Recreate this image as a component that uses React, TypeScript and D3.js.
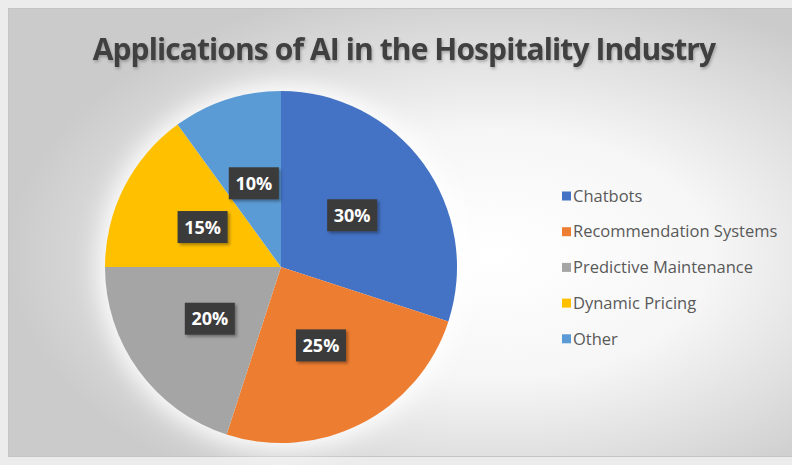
import { useEffect, useRef } from 'react'
import * as d3 from 'd3'

const categories = ['Chatbots', 'Recommendation Systems', 'Predictive Maintenance', 'Dynamic Pricing', 'Other']
const shares = [30, 25, 20, 15, 10]
const colors = ['#4472C4', '#ED7D31', '#A5A5A5', '#FFC000', '#5B9BD5']
const title = 'Applications of AI in the Hospitality Industry'

export default function App() {
  const svgRef = useRef<SVGSVGElement | null>(null)

  useEffect(() => {
    if (!svgRef.current) return
    const W = 792, H = 465
    const svg = d3.select(svgRef.current)
    svg.selectAll('*').remove()
    svg.attr('width', W).attr('height', H)

    const defs = svg.append('defs')
    const bg = defs.append('radialGradient').attr('id', 'bg-grad')
      .attr('cx', 0.62).attr('cy', 0.55).attr('r', 0.62)
    bg.append('stop').attr('offset', '0%').attr('stop-color', '#ffffff')
    bg.append('stop').attr('offset', '45%').attr('stop-color', '#f6f6f6')
    bg.append('stop').attr('offset', '100%').attr('stop-color', '#cbcbcb')

    const glow = defs.append('filter').attr('id', 'glow')
      .attr('x', '-30%').attr('y', '-30%').attr('width', '160%').attr('height', '160%')
    glow.append('feGaussianBlur').attr('stdDeviation', 12)

    const shadow = defs.append('filter').attr('id', 'lbl-shadow')
      .attr('x', '-30%').attr('y', '-30%').attr('width', '160%').attr('height', '160%')
    shadow.append('feDropShadow').attr('dx', 2).attr('dy', 2).attr('stdDeviation', 1.5)
      .attr('flood-color', '#000').attr('flood-opacity', 0.35)

    const tshadow = defs.append('filter').attr('id', 'title-shadow')
      .attr('x', '-10%').attr('y', '-30%').attr('width', '120%').attr('height', '160%')
    tshadow.append('feDropShadow').attr('dx', 1).attr('dy', 2).attr('stdDeviation', 1.5)
      .attr('flood-color', '#000').attr('flood-opacity', 0.25)

    // page + chart area
    svg.append('rect').attr('width', W).attr('height', H).attr('fill', '#ececec')
    svg.append('rect')
      .attr('x', 8.5).attr('y', 8.5).attr('width', W - 8).attr('height', 448)
      .attr('fill', 'url(#bg-grad)').attr('stroke', '#c4c4c4')

    // title
    svg.append('text')
      .attr('x', 404).attr('y', 60)
      .attr('text-anchor', 'middle')
      .attr('font-family', "'Open Sans', sans-serif")
      .attr('font-weight', 700)
      .attr('font-size', 30)
      .attr('letter-spacing', -0.9)
      .attr('fill', '#404040')
      .attr('filter', 'url(#title-shadow)')
      .text(title)

    // pie
    const cx = 281, cy = 267, R = 176
    const g = svg.append('g').attr('transform', `translate(${cx},${cy})`)
    g.append('circle').attr('r', R + 6).attr('fill', '#ffffff').attr('filter', 'url(#glow)')

    const data = categories.map((c, i) => ({ name: c, value: shares[i], color: colors[i] }))
    const pie = d3.pie<typeof data[0]>().sort(null).value(d => d.value)
    const arcs = pie(data)
    const arc = d3.arc<d3.PieArcDatum<typeof data[0]>>().innerRadius(0).outerRadius(R)

    g.selectAll('path.slice')
      .data(arcs)
      .join('path')
      .attr('class', 'slice')
      .attr('d', arc)
      .attr('fill', d => d.data.color)

    // data labels
    const lbl = g.selectAll('g.lbl')
      .data(arcs)
      .join('g')
      .attr('class', 'lbl')
      .attr('transform', d => `translate(${arc.centroid(d)})`)
    lbl.append('rect')
      .attr('x', -25).attr('y', -16).attr('width', 50).attr('height', 32)
      .attr('fill', '#3a3a3a')
      .attr('filter', 'url(#lbl-shadow)')
    lbl.append('text')
      .attr('text-anchor', 'middle')
      .attr('dy', '0.36em')
      .attr('font-family', "'Open Sans', sans-serif")
      .attr('font-weight', 700)
      .attr('font-size', 18)
      .attr('fill', '#ffffff')
      .text(d => `${d.data.value}%`)

    // legend
    const legend = svg.append('g').attr('transform', 'translate(562,196)')
    const row = legend.selectAll('g.row')
      .data(data)
      .join('g')
      .attr('class', 'row')
      .attr('transform', (_, i) => `translate(0,${i * 35.7})`)
    row.append('rect')
      .attr('x', 0).attr('y', -4.5).attr('width', 9).attr('height', 9)
      .attr('fill', d => d.color)
    row.append('text')
      .attr('x', 11).attr('dy', '0.35em')
      .attr('font-family', "'Open Sans', sans-serif")
      .attr('font-size', 16.5)
      .attr('fill', '#595959')
      .text(d => d.name)
  }, [])

  return <svg ref={svgRef} style={{ position: 'absolute', left: 0, top: 0 }} />
}
